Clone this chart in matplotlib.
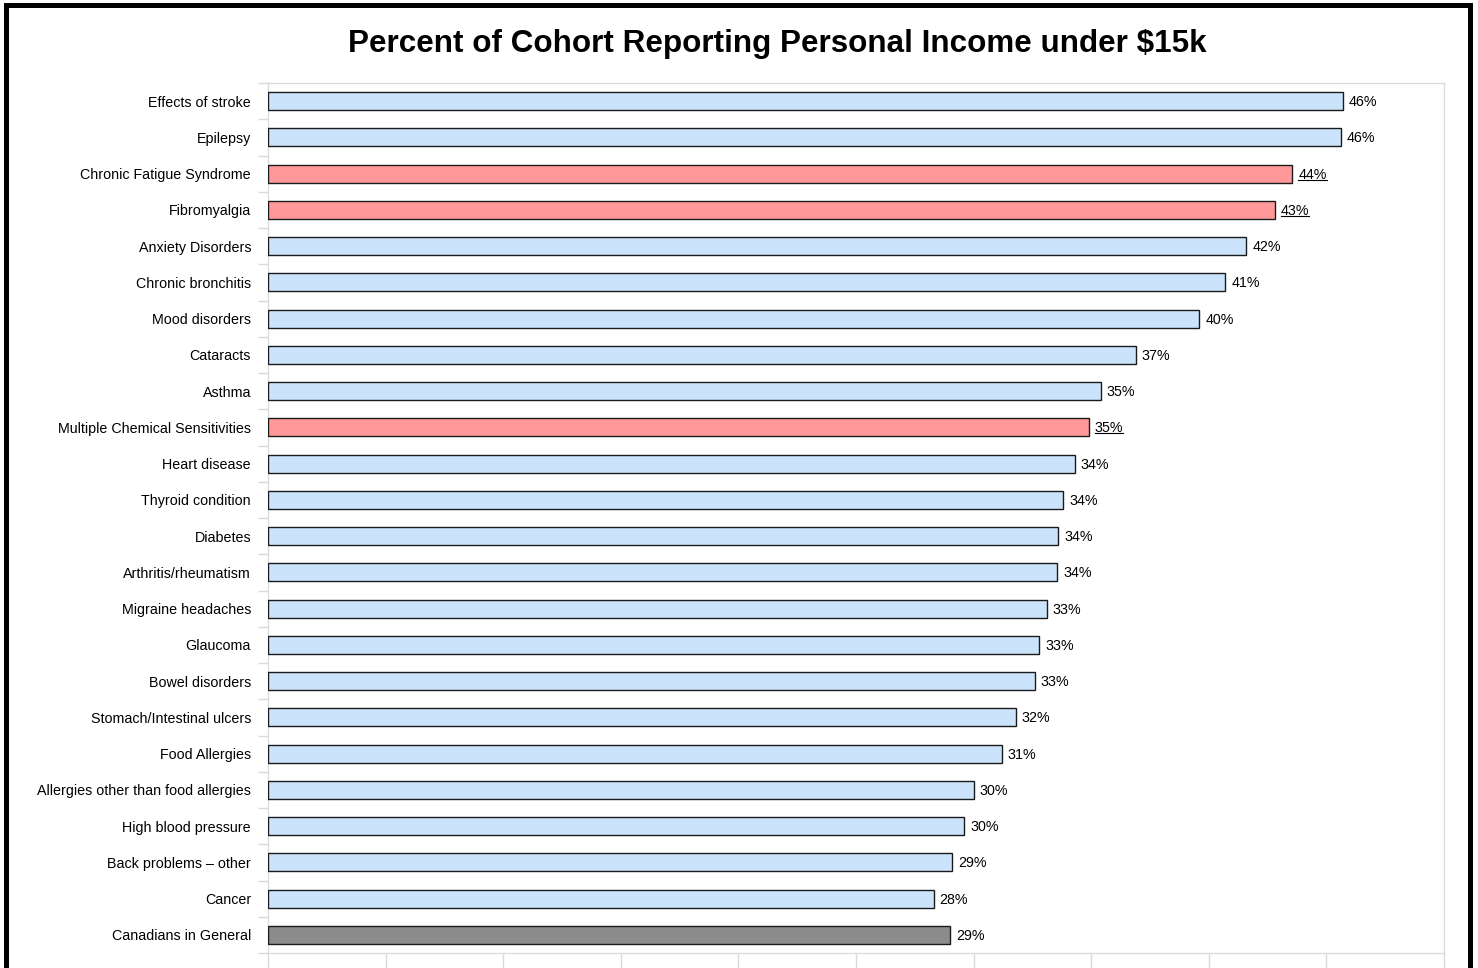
import matplotlib
matplotlib.use("Agg")
import matplotlib.pyplot as plt
from matplotlib.patches import Rectangle
from matplotlib.lines import Line2D
import numpy as np

categories = [
    "Effects of stroke", "Epilepsy", "Chronic Fatigue Syndrome", "Fibromyalgia",
    "Anxiety Disorders", "Chronic bronchitis", "Mood disorders", "Cataracts",
    "Asthma", "Multiple Chemical Sensitivities", "Heart disease", "Thyroid condition",
    "Diabetes", "Arthritis/rheumatism", "Migraine headaches", "Glaucoma",
    "Bowel disorders", "Stomach/Intestinal ulcers", "Food Allergies",
    "Allergies other than food allergies", "High blood pressure",
    "Back problems \u2013 other", "Cancer", "Canadians in General",
]
values = [45.7, 45.6, 43.55, 42.8, 41.6, 40.7, 39.6, 36.9, 35.4, 34.9, 34.3, 33.8,
          33.6, 33.55, 33.1, 32.8, 32.6, 31.8, 31.2, 30.0, 29.6, 29.1, 28.3, 29.0]
groups = ["other", "other", "highlight", "highlight", "other", "other", "other", "other",
          "other", "highlight", "other", "other", "other", "other", "other", "other",
          "other", "other", "other", "other", "other", "other", "other", "baseline"]
x_ticks = [0, 5, 10, 15, 20, 25, 30, 35, 40, 45, 50]

colors = {"other": "#cbe4fc", "highlight": "#ff9999", "baseline": "#8c8c8c"}
FONT = "Liberation Sans"

W, H = 1478, 968
fig = plt.figure(figsize=(W / 100, H / 100), dpi=100)
fig.patch.set_facecolor("white")

left, right, top, bottom = 268, 1444, 83, 953
ax = fig.add_axes([left / W, (H - bottom) / H, (right - left) / W, (bottom - top) / H])

y = np.arange(len(categories))
ax.barh(y, values, height=0.5, color=[colors[g] for g in groups],
        edgecolor="#1a1a1a", linewidth=1.0, zorder=3)

ax.set_xlim(0, 50)
ax.set_ylim(len(categories) - 0.5, -0.5)

ax.set_xticks(x_ticks)
ax.set_xticklabels([])
ax.tick_params(axis="x", length=10.8, width=1, color="#d9d9d9", direction="out")

ax.set_yticks(y)
ax.set_yticklabels(categories, fontsize=10.3, family=FONT)
ax.set_yticks(np.arange(len(categories) + 1) - 0.5, minor=True)
ax.tick_params(axis="y", which="major", length=0, pad=12.2)
ax.tick_params(axis="y", which="minor", length=7.2, width=1, color="#d9d9d9")

for s in ax.spines.values():
    s.set_color("#dcdcdc")
    s.set_linewidth(1)

texts = []
for yi, v, g in zip(y, values, groups):
    t = ax.annotate(f"{v:.0f}%", xy=(v, yi), xytext=(6, -1), textcoords="offset pixels",
                    va="center", ha="left", fontsize=10.3, family=FONT, color="black")
    texts.append((t, g))

fig.text(777 / W, (H - 52) / H, "Percent of Cohort Reporting Personal Income under $15k",
         ha="center", va="baseline", fontsize=22.6, fontweight="bold", family=FONT)

# underline highlighted value labels
fig.canvas.draw()
r = fig.canvas.get_renderer()
for t, g in texts:
    if g == "highlight":
        bb = t.get_window_extent(r)
        yl = bb.y0 + 2
        fig.add_artist(Line2D([bb.x0 / W, bb.x1 / W], [yl / H, yl / H],
                              transform=fig.transFigure, color="black", linewidth=0.8))

# outer frame
fig.add_artist(Rectangle((5.8 / W, -0.05), (1469.5 - 5.8) / W, (H - 5.0) / H + 0.05,
                         transform=fig.transFigure, fill=False, edgecolor="black",
                         linewidth=3.6, clip_on=False))

fig.savefig("out.png", dpi=100)
